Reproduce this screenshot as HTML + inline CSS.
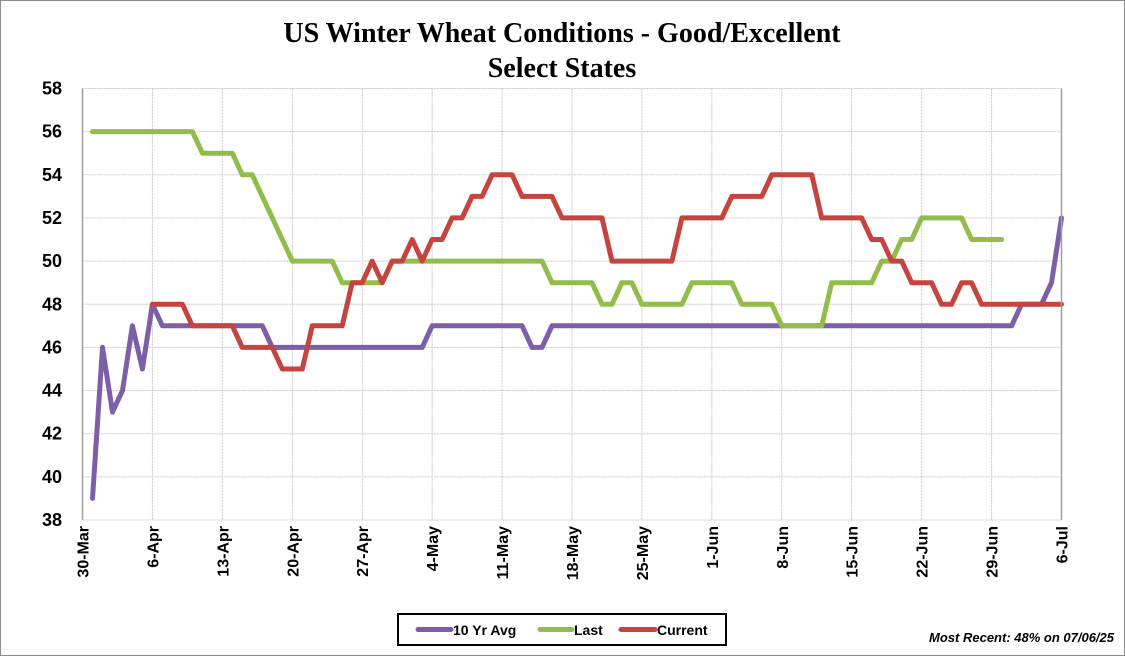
<!DOCTYPE html>
<html><head><meta charset="utf-8">
<style>
body{margin:0;background:#fff;}
svg{display:block;font-family:"Liberation Sans",sans-serif;}
</style></head>
<body>
<svg id="chart" width="1125" height="656" viewBox="0 0 1125 656">
<rect x="0.5" y="0.5" width="1124" height="655" fill="#fff" stroke="#8c8c8c"/>
<text x="562" y="42" text-anchor="middle" font-family="Liberation Serif, serif" font-weight="bold" font-size="28">US Winter Wheat Conditions - Good/Excellent</text>
<text x="562" y="77" text-anchor="middle" font-family="Liberation Serif, serif" font-weight="bold" font-size="28">Select States</text>
<g id="grid"></g>
<g id="series"></g>
<g id="axes"></g>
<g>
<rect x="398" y="614" width="328" height="31" fill="#fff" stroke="#000" stroke-width="2"/>
<g><line x1="418" y1="629.5" x2="451" y2="629.5" stroke="#7d5fa8" stroke-width="5" stroke-linecap="round"/><text x="453" y="635" font-size="14" font-weight="bold">10 Yr Avg</text></g>
<g><line x1="540" y1="629.5" x2="572" y2="629.5" stroke="#92bd4b" stroke-width="5" stroke-linecap="round"/><text x="574" y="635" font-size="14" font-weight="bold">Last</text></g>
<g><line x1="621" y1="629.5" x2="655" y2="629.5" stroke="#c5443f" stroke-width="5" stroke-linecap="round"/><text x="657" y="635" font-size="14" font-weight="bold">Current</text></g>
</g>
<text x="1114" y="642" text-anchor="end" font-size="13" font-weight="bold" font-style="italic">Most Recent: 48%  on 07/06/25</text>
</svg>
<script>
const xTickLabels=["30-Mar","6-Apr","13-Apr","20-Apr","27-Apr","4-May","11-May","18-May","25-May","1-Jun","8-Jun","15-Jun","22-Jun","29-Jun","6-Jul"];
const yTicks=[38,40,42,44,46,48,50,52,54,56,58];
// values indexed by day offset from 30-Mar
const avgStart=1;
const avgValues=[39,46,43,44,47,45,48,47,47,47,47,47,47,47,47,47,47,47,46,46,46,46,46,46,46,46,46,46,46,46,46,46,46,46,47,47,47,47,47,47,47,47,47,47,46,46,47,47,47,47,47,47,47,47,47,47,47,47,47,47,47,47,47,47,47,47,47,47,47,47,47,47,47,47,47,47,47,47,47,47,47,47,47,47,47,47,47,47,47,47,47,47,47,48,48,48,49,52];
const lastStart=1;
const lastValues=[56,56,56,56,56,56,56,56,56,56,56,55,55,55,55,54,54,53,52,51,50,50,50,50,50,49,49,49,49,49,50,50,50,50,50,50,50,50,50,50,50,50,50,50,50,50,49,49,49,49,49,48,48,49,49,48,48,48,48,48,49,49,49,49,49,48,48,48,48,47,47,47,47,47,49,49,49,49,49,50,50,51,51,52,52,52,52,52,51,51,51,51];
const curStart=7;
const curValues=[48,48,48,48,47,47,47,47,47,46,46,46,46,45,45,45,47,47,47,47,49,49,50,49,50,50,51,50,51,51,52,52,53,53,54,54,54,53,53,53,53,52,52,52,52,52,50,50,50,50,50,50,50,52,52,52,52,52,53,53,53,53,54,54,54,54,54,52,52,52,52,52,51,51,50,50,49,49,49,48,48,49,49,48,48,48,48,48,48,48,48,48];
const NS="http://www.w3.org/2000/svg";
const X0=82.5,X1=1061.5,Y0=520,Y1=88.5,DAYS=98;
function xs(d){return X0+(X1-X0)*d/DAYS;}
function ys(v){return Y0-(Y0-Y1)*(v-38)/20;}
const grid=document.getElementById('grid'),axes=document.getElementById('axes'),ser=document.getElementById('series');
function mk(tag,attrs,parent){const e=document.createElementNS(NS,tag);for(const k in attrs)e.setAttribute(k,attrs[k]);parent.appendChild(e);return e;}
yTicks.forEach(v=>{
 const l=mk('line',{x1:X0,x2:X1,y1:ys(v),y2:ys(v),stroke:'#c8c8cc','stroke-width':1,'stroke-dasharray':'2,1'},grid);
 
 
 const t=mk('text',{x:62,y:ys(v)+6,'text-anchor':'end','font-size':18,'font-weight':'bold'},axes);
 t.textContent=v;
 
 
});
xTickLabels.forEach((s,i)=>{
 const x=xs(i*7);
 const l=mk('line',{x1:x,x2:x,y1:Y1,y2:Y0,stroke:'#c8c8cc','stroke-width':1,'stroke-dasharray':'2,1'},grid);
 
 
 const t=mk('text',{x:0,y:0,'text-anchor':'end','font-size':16,'font-weight':'bold',transform:`translate(${x+6},${Y0+6}) rotate(-90)`},axes);
 t.textContent=s;
 
 
});
const ax=mk('line',{x1:X0,x2:X0,y1:Y1,y2:Y0,stroke:'#a0a0a0','stroke-width':1.5},axes);


const ax2=mk('line',{x1:X1,x2:X1,y1:Y1,y2:Y0,stroke:'#a0a0a0','stroke-width':1.5},axes);


function drawSeries(start,vals,color,name){
 const pts=vals.map((v,i)=>xs(start+i).toFixed(1)+','+ys(v).toFixed(1)).join(' ');
 const p=mk('polyline',{points:pts,fill:'none',stroke:color,'stroke-width':5,'stroke-linejoin':'round','stroke-linecap':'round'},ser);
 
 
}
drawSeries(avgStart,avgValues,'#7d5fa8','line-10yr-avg');
drawSeries(lastStart,lastValues,'#92bd4b','line-last');
drawSeries(curStart,curValues,'#c5443f','line-current');
</script>
</body></html>
